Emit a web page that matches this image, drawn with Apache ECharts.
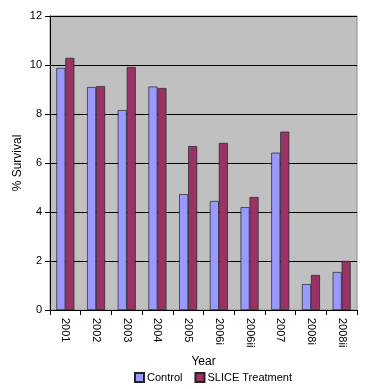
<!DOCTYPE html>
<html><head><meta charset="utf-8">
<script src="https://cdn.jsdelivr.net/npm/echarts@6/dist/echarts.min.js"></script>
<style>html,body{margin:0;padding:0;background:#fff}#c{width:387px;height:389px}</style>
</head><body><div id="c"></div>
<script>
const categories = ['2001','2002','2003','2004','2005','2006i','2006ii','2007','2008i','2008ii'];
const control = [9.88, 9.10, 8.16, 9.12, 4.73, 4.45, 4.20, 6.42, 1.06, 1.55];
const slice = [10.29, 9.14, 9.92, 9.06, 6.69, 6.82, 4.61, 7.28, 1.43, 2.00];
const yTicks = [0, 2, 4, 6, 8, 10, 12];

const chart = echarts.init(document.getElementById('c'));
const font = 'Liberation Sans, Arial, sans-serif';
chart.setOption({
  backgroundColor: '#fff',
  animation: false,
  textStyle: {fontFamily: font},
  grid: {left: 50, right: 30, top: 16, bottom: 79, backgroundColor: '#C0C0C0', show: true, borderColor: '#8a8a8a', borderWidth: 1},
  legend: {
    bottom: 1, left: 129, itemWidth: 9, itemHeight: 9, itemGap: 12,
    textStyle: {fontFamily: font, fontSize: 11, color: '#000', padding: [0, 0, 0, -2]},
    data: [{name: 'Control', icon: 'rect'}, {name: 'SLICE Treatment', icon: 'rect'}]
  },
  xAxis: {
    type: 'category', data: categories, boundaryGap: true,
    name: 'Year', nameLocation: 'middle', nameGap: 46,
    nameTextStyle: {fontFamily: font, fontSize: 12, color: '#000'},
    axisLine: {lineStyle: {color: '#000', width: 1}},
    axisTick: {show: true, length: 5, alignWithLabel: false, lineStyle: {color: '#000'}},
    axisLabel: {rotate: -90, fontFamily: font, fontSize: 11, color: '#000', margin: 8}
  },
  yAxis: {
    type: 'value', min: yTicks[0], max: yTicks[yTicks.length-1], interval: 2,
    name: '% Survival', nameLocation: 'middle', nameGap: 26, nameRotate: 90, nameMoveOverlap: false,
    nameTextStyle: {fontFamily: font, fontSize: 12, color: '#000'},
    axisLine: {show: true, lineStyle: {color: '#000', width: 1}},
    axisTick: {show: true, length: 5, lineStyle: {color: '#000'}},
    axisLabel: {fontFamily: font, fontSize: 11, color: '#000', margin: 8},
    splitLine: {show: true, lineStyle: {color: '#000', width: 1}}
  },
  series: [
    {name: 'Control', type: 'bar', data: control, barWidth: 9, barGap: '0%',
     itemStyle: {color: '#9999FF', borderColor: '#222', borderWidth: 0.7}},
    {name: 'SLICE Treatment', type: 'bar', data: slice, barWidth: 9, barGap: '0%',
     itemStyle: {color: '#993366', borderColor: '#222', borderWidth: 0.7}}
  ]
});
</script></body></html>
